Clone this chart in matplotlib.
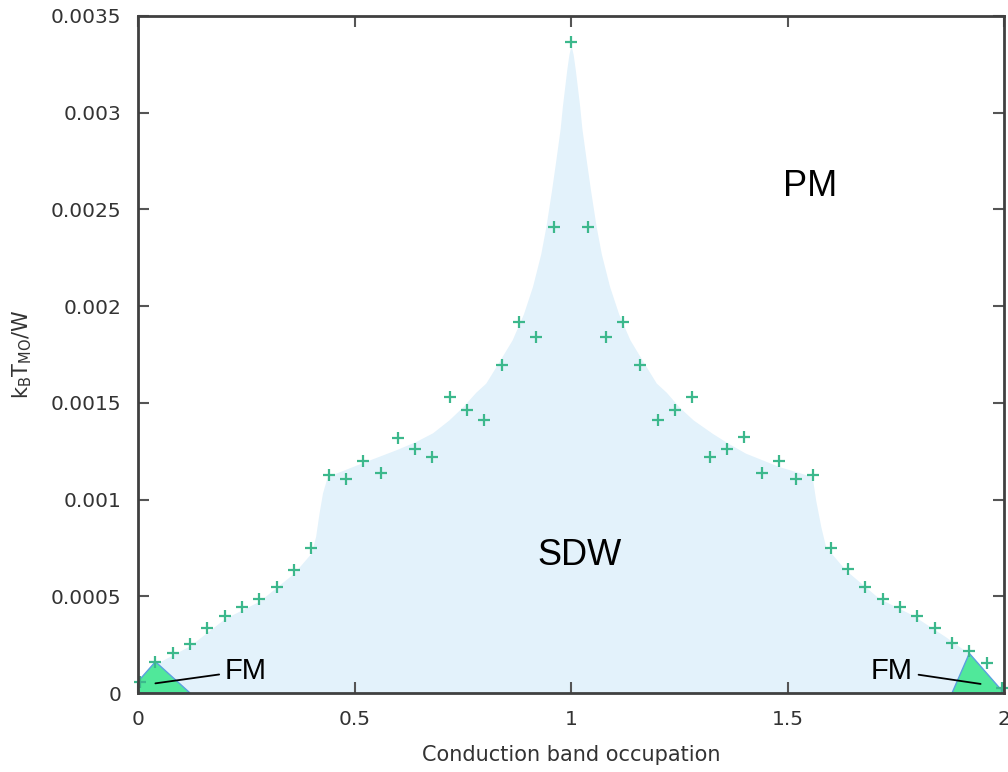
import numpy as np
import matplotlib
matplotlib.use("Agg")
import matplotlib.pyplot as plt

# measured Tc points (x = conduction band occupation)
occ = [0.005, 0.04, 0.08, 0.12, 0.16, 0.20, 0.24, 0.28, 0.32, 0.36, 0.40,
       0.44, 0.48, 0.52, 0.56, 0.60, 0.64, 0.68, 0.72, 0.76, 0.80, 0.84,
       0.88, 0.92, 0.96, 1.00, 1.04, 1.08, 1.12, 1.16, 1.20, 1.24, 1.28,
       1.32, 1.36, 1.40, 1.44, 1.48, 1.52, 1.56, 1.60, 1.64, 1.68, 1.72,
       1.76, 1.80, 1.84, 1.88, 1.92, 1.96, 1.995]
tc = [0.000057, 0.000162, 0.000205, 0.000252, 0.000335, 0.000398, 0.000443,
      0.000486, 0.000547, 0.000638, 0.000750, 0.001126, 0.001107, 0.001202,
      0.001137, 0.001318, 0.001259, 0.001219, 0.001528, 0.001464, 0.001412,
      0.001697, 0.001916, 0.001840, 0.002409, 0.003366, 0.002409, 0.001840,
      0.001916, 0.001697, 0.001412, 0.001464, 0.001528, 0.001219, 0.001261,
      0.001321, 0.001137, 0.001202, 0.001107, 0.001128, 0.000749, 0.000640,
      0.000547, 0.000486, 0.000446, 0.000398, 0.000338, 0.000257, 0.000217,
      0.000157, 0.000026]

# SDW phase boundary (smoothed)
sdw_x = [0.0, 0.02, 0.04, 0.12, 0.20, 0.28, 0.36, 0.40, 0.41, 0.418, 0.426,
         0.437, 0.517, 0.595, 0.641, 0.68, 0.718, 0.75, 0.78, 0.803, 0.83,
         0.864, 0.89, 0.911, 0.93, 0.942, 0.955, 0.965, 0.975, 0.98, 0.99,
         0.995, 1.0, 1.005, 1.01, 1.02, 1.025, 1.035, 1.045, 1.058, 1.07,
         1.089, 1.11, 1.136, 1.17, 1.197, 1.22, 1.249, 1.282, 1.326, 1.36,
         1.403, 1.48, 1.557, 1.565, 1.577, 1.588, 1.634, 1.711, 1.788,
         1.865, 1.919, 1.973, 2.0]
sdw_y = [0.00002, 0.00009, 0.000150, 0.000245, 0.000385, 0.000475, 0.000620,
         0.000724, 0.000809, 0.000931, 0.001035, 0.001119, 0.001190,
         0.001257, 0.001300, 0.001345, 0.001412, 0.001480, 0.001555,
         0.001602, 0.001700, 0.001826, 0.001960, 0.002102, 0.002270,
         0.002412, 0.002600, 0.002757, 0.002920, 0.003033, 0.003220,
         0.003300, 0.003350, 0.003300, 0.003220, 0.003033, 0.002920,
         0.002757, 0.002600, 0.002412, 0.002270, 0.002102, 0.001960,
         0.001826, 0.001700, 0.001602, 0.001555, 0.001480, 0.001412,
         0.001343, 0.001295, 0.001240, 0.001171, 0.001119, 0.000998,
         0.000860, 0.000757, 0.000636, 0.000490, 0.000404, 0.000291,
         0.000205, 0.000067, 0.0]

# FM pockets
fm_left_x = [0.0, 0.0, 0.04, 0.12]
fm_left_y = [0.0, 0.00006, 0.000162, 0.0]
fm_right_x = [1.88, 1.92, 2.0]
fm_right_y = [0.0, 0.000205, 0.0]

xticks = [0, 0.5, 1, 1.5, 2]
xtick_labels = ["0", "0.5", "1", "1.5", "2"]
yticks = [0, 0.0005, 0.001, 0.0015, 0.002, 0.0025, 0.003, 0.0035]
ytick_labels = ["0", "0.0005", "0.001", "0.0015", "0.002", "0.0025", "0.003", "0.0035"]

fig = plt.figure(figsize=(10.08, 7.72), dpi=100)
ax = fig.add_axes([0.137, 0.1023, 0.859, 0.877])

ax.fill_between(sdw_x, 0, sdw_y, color="#e3f2fb", linewidth=0, zorder=1)
ax.fill(fm_left_x, fm_left_y, facecolor="#50e89a", edgecolor="#5aa0e0", linewidth=1, zorder=2)
ax.fill(fm_right_x, fm_right_y, facecolor="#50e89a", edgecolor="#5aa0e0", linewidth=1, zorder=2)

ax.plot(occ, tc, linestyle="none", marker="+", markersize=9, markeredgewidth=1.6,
        color="#3cb88c", zorder=4, clip_on=False)

label_font = ["Liberation Sans", "DejaVu Sans"]
ax.text(1.552, 0.00262, "PM", fontsize=26, family=label_font, ha="center", va="center")
ax.text(1.02, 0.00071, "SDW", fontsize=26, family=label_font, ha="center", va="center")
ax.annotate("FM", xy=(0.04, 0.00005), xytext=(0.20, 0.000115), fontsize=21,
            family=label_font, ha="left", va="center", zorder=5,
            arrowprops=dict(arrowstyle="-", color="black", lw=1.3, shrinkA=2, shrinkB=0))
ax.annotate("FM", xy=(1.946, 0.000047), xytext=(1.79, 0.000115), fontsize=21,
            family=label_font, ha="right", va="center", zorder=5,
            arrowprops=dict(arrowstyle="-", color="black", lw=1.3, shrinkA=2, shrinkB=0))

ax.set_xlim(0, 2)
ax.set_ylim(0, 0.0035)
ax.set_xticks(xticks)
ax.set_xticklabels(xtick_labels)
ax.set_yticks(yticks)
ax.set_yticklabels(ytick_labels)
ax.tick_params(direction="in", length=8, width=1.5, color="#555555",
               labelsize=14.5, labelcolor="#333333", top=True, right=True, pad=12)
for s in ax.spines.values():
    s.set_linewidth(2)
    s.set_color("#404040")
    s.set_zorder(6)

ax.set_xlabel("Conduction band occupation", fontsize=15, color="#333333", labelpad=12)
ax.set_ylabel(r"$\mathregular{k_BT_{MO}/W}$", fontsize=15, color="#333333", labelpad=12)

fig.savefig("out.png", dpi=100)
